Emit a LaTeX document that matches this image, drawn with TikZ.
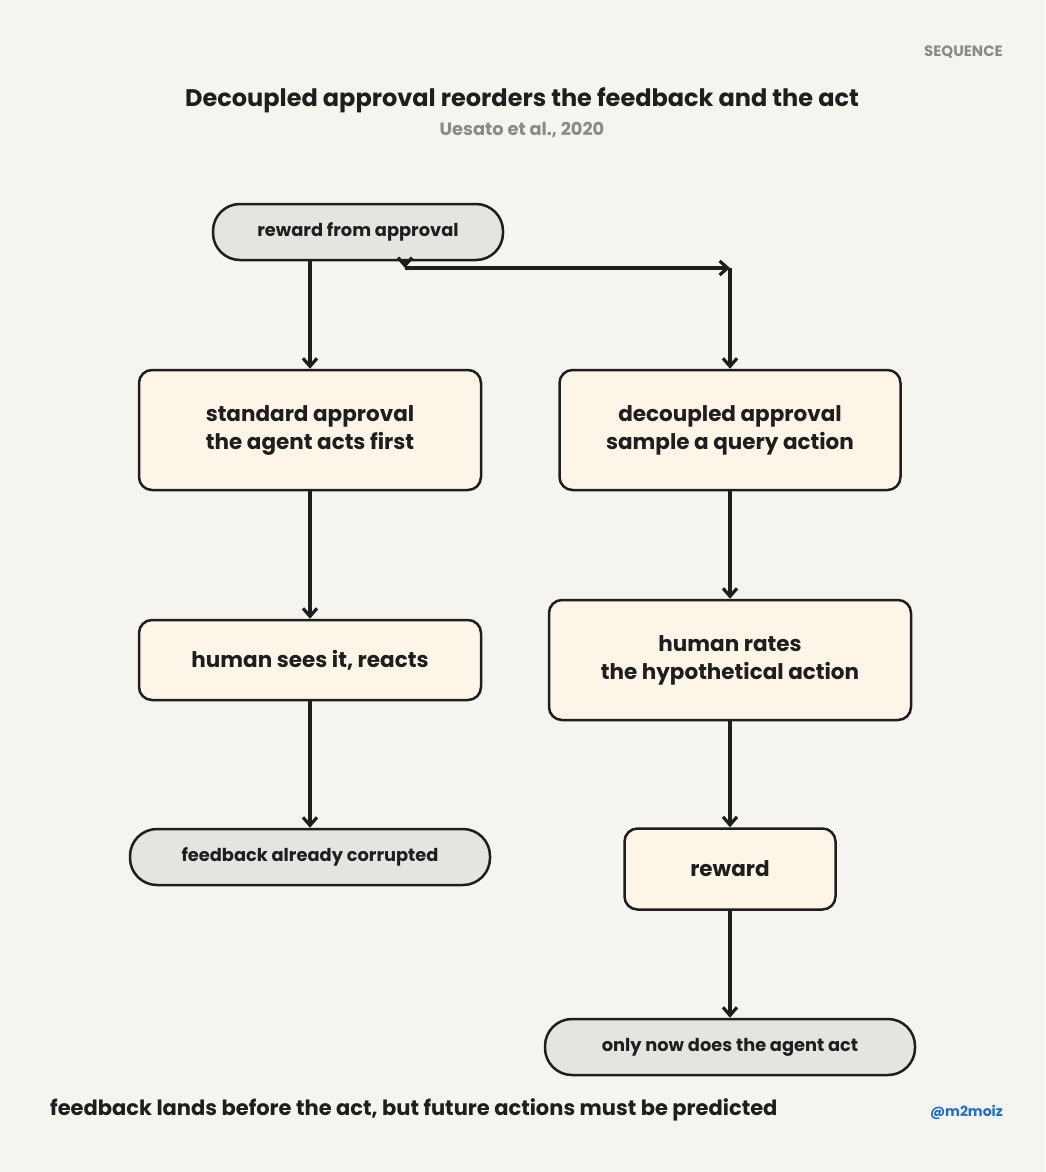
\documentclass[tikz,border=0pt]{standalone}
\usepackage{fontspec}
\setmainfont{Poppins}
\usetikzlibrary{arrows.meta,calc}
\definecolor{bg}{HTML}{F5F4EF}
\definecolor{ink}{HTML}{1E1E1E}
\definecolor{cream}{HTML}{FDF6E8}
\definecolor{pill}{HTML}{E4E4E0}
\definecolor{muted}{HTML}{8A8A8A}
\definecolor{handle}{HTML}{1F6FC8}
\tikzset{
  box/.style={draw=ink, line width=2.5pt, fill=cream, rounded corners=13pt, inner sep=0pt, align=center,
    font=\fontsize{21.5}{28}\selectfont\bfseries, text=ink},
  term/.style={draw=ink, line width=2.5pt, fill=pill, rounded corners=27pt, inner sep=0pt, align=center,
    minimum height=56pt, font=\fontsize{17.8}{20}\selectfont\bfseries, text=ink},
  flow/.style={line width=3.2pt, color=ink, arrows={-Straight Barb[length=8pt,width=14pt]}},
}
\begin{document}
\begin{tikzpicture}[x=1pt,y=-1pt]
\useasboundingbox (0,0) rectangle (1045,1172);
\fill[bg] (0,0) rectangle (1045,1172);

\node[text=muted, font=\fontsize{15}{16}\selectfont\bfseries, anchor=east, inner sep=0pt] (tag) at (1003,52) {SEQUENCE};
\node[text=ink, font=\fontsize{24}{26}\selectfont\bfseries] (title) at (522,100) {Decoupled approval reorders the feedback and the act};
\node[text=muted, font=\fontsize{17.8}{20}\selectfont\bfseries] (sub) at (522,130) {Uesato et al., 2020};

\node[term, minimum width=290pt] (rfa) at (358,232) {reward from approval};
\node[box, minimum width=342pt, minimum height=120pt] (std) at (310,430) {standard approval\\the agent acts first};
\node[box, minimum width=341pt, minimum height=120pt] (dec) at (730,430) {decoupled approval\\sample a query action};
\node[box, minimum width=342pt, minimum height=80pt] (see) at (310,660) {human sees it, reacts};
\node[box, minimum width=362pt, minimum height=120pt] (rate) at (730,660) {human rates\\the hypothetical action};
\node[term, minimum width=360pt] (corr) at (310,857) {feedback already corrupted};
\node[box, minimum width=211pt, minimum height=81pt] (rew) at (730,869) {reward};
\node[term, minimum width=370pt] (now) at (730,1047) {only now does the agent act};

\node[text=ink, font=\fontsize{21}{24}\selectfont\bfseries, anchor=west, inner sep=0pt] (foot) at (50,1110) {feedback lands before the act, but future actions must be predicted};
\node[text=handle, font=\fontsize{14}{18}\selectfont\bfseries, anchor=east, inner sep=0pt] (handle) at (1003,1112) {@m2moiz};

\coordinate (c0) at (405,260);
\coordinate (c1) at (405,268);
\coordinate (c2) at (730,268);

\draw[flow] (rfa.south -| std.north) -- (std.north);
\draw[flow] (c0) -- (c1);
\draw[flow] (c1) -- (c2);
\draw[flow] (c2) -- (dec.north);
\draw[flow] (std) -- (see);
\draw[flow] (see) -- (corr);
\draw[flow] (dec) -- (rate);
\draw[flow] (rate) -- (rew);
\draw[flow] (rew) -- (now);
\end{tikzpicture}
\end{document}
